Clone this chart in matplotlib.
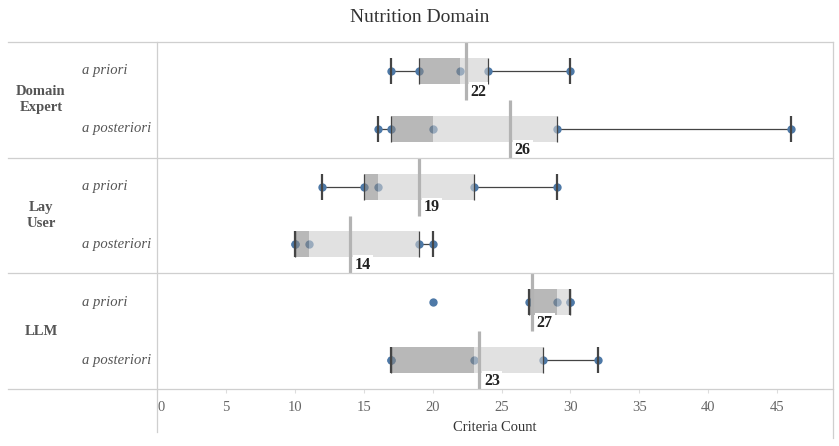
import numpy as np
import matplotlib.pyplot as plt
from matplotlib.lines import Line2D
from matplotlib.transforms import blended_transform_factory

plt.rcParams['font.family'] = ['Liberation Serif', 'DejaVu Serif']

# criteria counts per participant
groups = ["Domain\nExpert", "Lay\nUser", "LLM"]
phases = ["a priori", "a posteriori"]
de_priori = [17, 19, 22, 24, 30]
de_post = [16, 17, 20, 29, 46]
lay_priori = [12, 15, 16, 23, 29]
lay_post = [10, 10, 11, 19, 20]
llm_priori = [20, 27, 29, 30, 30]
llm_post = [17, 17, 23, 28, 32]
rows = [de_priori, de_post, lay_priori, lay_post, llm_priori, llm_post]
xticks = [0, 5, 10, 15, 20, 25, 30, 35, 40, 45]

W, H = 839, 446
fig = plt.figure(figsize=(W / 100, H / 100), dpi=100)
L, R, T, B = 157, 833, 42, 389
ax = fig.add_axes([L / W, 1 - B / H, (R - L) / W, (B - T) / H])
ax.set_xlim(0, 49.05)
ax.set_ylim(5.5, -0.5)
for s in ax.spines.values():
    s.set_visible(False)

blue = "#4e79a7"
dark_box = "#8a8a8a"
light_box = "#cdcdcd"
whisk = "#444444"
grid_c = "#cfcfcf"
box_h = 0.45

for i, vals in enumerate(rows):
    v = np.array(vals, dtype=float)
    q1, med, q3 = np.percentile(v, [25, 50, 75])
    iqr = q3 - q1
    lo = v[v >= q1 - 1.5 * iqr].min()
    hi = v[v <= q3 + 1.5 * iqr].max()
    mean = v.mean()

    ax.scatter(v, [i] * len(v), s=36, color=blue, zorder=2, linewidths=0)
    ax.barh(i, med - q1, left=q1, height=box_h, color=dark_box, alpha=0.6, zorder=3)
    ax.barh(i, q3 - med, left=med, height=box_h, color=light_box, alpha=0.6, zorder=3)
    ax.vlines([q1, q3], i - box_h / 2, i + box_h / 2, color=whisk, lw=0.9, zorder=4)
    ax.hlines(i, lo, q1, color=whisk, lw=0.9, zorder=1)
    ax.hlines(i, q3, hi, color=whisk, lw=0.9, zorder=1)
    ax.vlines([lo, hi], i - box_h / 2, i + box_h / 2, color=whisk, lw=1.6, zorder=4)
    ax.vlines(mean, i - 0.5, i + 0.5, color="#b3b3b3", lw=2.3, zorder=5)
    ax.annotate(str(int(round(mean))), xy=(mean, i), xytext=(3.5, -15),
                textcoords="offset points", ha="left", va="center",
                fontsize=11.5, fontweight="bold", color="#222222", zorder=6,
                bbox=dict(boxstyle="square,pad=0.12", fc="white", ec="none"))

# row and group labels
tr = blended_transform_factory(ax.transAxes, ax.transData)
for i in range(6):
    ax.text((82 - L) / (R - L), i, phases[i % 2], transform=tr, ha="left",
            va="center", fontsize=10.5, style="italic", color="#555555")
for g, name in enumerate(groups):
    ax.text((41 - L) / (R - L), 2 * g + 0.5, name, transform=tr, ha="center",
            va="center", fontsize=10.5, fontweight="bold", color="#555555",
            linespacing=1.3)

# separators and frame
for y in [T, 158, 273, B]:
    fig.add_artist(Line2D([8 / W, R / W], [1 - y / H, 1 - y / H], color=grid_c, lw=0.9))
fig.add_artist(Line2D([L / W, L / W], [1 - T / H, 1 - 432 / H], color=grid_c, lw=0.9))
fig.add_artist(Line2D([R / W, R / W], [1 - T / H, 1 - 438 / H], color=grid_c, lw=0.9))

ax.set_yticks([])
ax.set_xticks(xticks)
ax.tick_params(axis="x", length=3, color="#dddddd", labelsize=10.5,
               labelcolor="#666666", pad=5.5)
ax.get_xticklabels()[0].set_ha("left")
ax.set_xlabel("Criteria Count", fontsize=10.5, color="#333333", labelpad=5)
fig.text(420 / W, 1 - 18 / H, "Nutrition Domain", ha="center", va="center",
         fontsize=14, color="#333333")

fig.savefig("out.png", dpi=100)
